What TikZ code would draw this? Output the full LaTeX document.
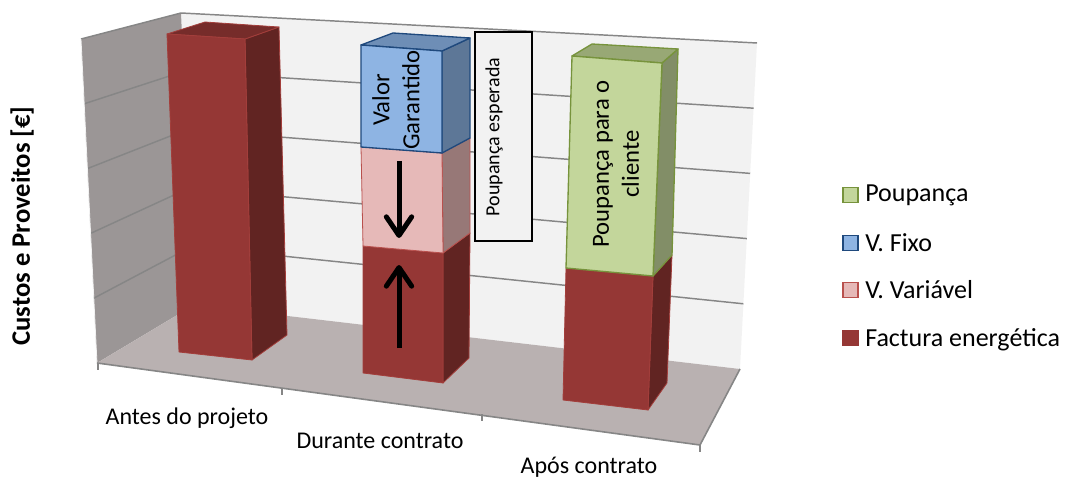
\documentclass[tikz,border=0pt]{standalone}
\usepackage{fontspec}
\setmainfont{Carlito}
\usetikzlibrary{calc,arrows.meta}
\definecolor{wallback}{HTML}{F2F2F2}
\definecolor{wallside}{HTML}{9B9696}
\definecolor{floorc}{HTML}{B9B1B1}
\definecolor{gridc}{HTML}{868686}
\definecolor{redF}{HTML}{953735}
\definecolor{redS}{HTML}{612422}
\definecolor{redT}{HTML}{762C2A}
\definecolor{redE}{HTML}{A33E3B}
\definecolor{pinkF}{HTML}{E6B9B8}
\definecolor{pinkS}{HTML}{977877}
\definecolor{pinkE}{HTML}{B9504D}
\definecolor{blueF}{HTML}{8EB4E3}
\definecolor{blueS}{HTML}{5D7797}
\definecolor{blueT}{HTML}{6E8EB6}
\definecolor{blueE}{HTML}{1F497D}
\definecolor{greenF}{HTML}{C3D69B}
\definecolor{greenS}{HTML}{828E67}
\definecolor{greenT}{HTML}{98A875}
\definecolor{greenE}{HTML}{77933C}
\tikzset{
  gridline/.style={draw=gridc, line width=1.1pt},
  edgeline/.style={draw=gridc, line width=1.2pt},
  redface/.style={draw=redE, line width=0.6pt, line join=round},
  pinkface/.style={draw=pinkE, line width=0.6pt, line join=round},
  blueface/.style={draw=blueE, line width=1pt, line join=round},
  greenface/.style={draw=greenE, line width=1pt, line join=round},
  cat/.style={font=\fontsize{18}{22}\selectfont, anchor=base, inner sep=0pt},
  barlabel/.style={font=\fontsize{18.5}{21}\selectfont, rotate=90, align=center, inner sep=0pt},
  legtext/.style={font=\fontsize{19.5}{23}\selectfont, anchor=base west, inner sep=0pt},
  legbox/.style={line width=1.1pt, minimum width=11pt, minimum height=11pt, inner sep=0pt},
  bigarrow/.style={line width=3.75pt, -{Straight Barb[length=14pt,width=19pt,round]}}
}
\begin{document}
\begin{tikzpicture}[x=0.75pt,y=-0.75pt]
\useasboundingbox (0,0) rectangle (1069,477);
% corner coordinates of the chart box
\coordinate (LF0) at (81,39);
\coordinate (LF1) at (97,363);
\coordinate (LB0) at (181,13);
\coordinate (LB1) at (194,305);
\coordinate (BR0) at (757,43);
\coordinate (BR1) at (740,369);
\coordinate (FR) at (700,445);
% walls and floor
\fill[wallback] (LB0) -- (BR0) -- (BR1) -- (LB1) -- cycle;
\fill[wallside] (LF0) -- (LB0) -- (LB1) -- (LF1) -- cycle;
\fill[floorc] (LB1) -- (BR1) -- (FR) -- (LF1) -- cycle;
\foreach \k in {0,1,2,3,4}{
  \draw[gridline] ($(LF0)!\k/5!(LF1)$) -- ($(LB0)!\k/5!(LB1)$) -- ($(BR0)!\k/5!(BR1)$);
}
\draw[draw=wallback, line width=0.6pt] (LF0) -- (LF1);
\draw[edgeline] (LF1) -- (FR) -- (BR1);
% ticks
\coordinate (T1) at (98,363);
\coordinate (T2) at (282,388);
\coordinate (T3) at (482,414);
\coordinate (T4) at (700,445);
\foreach \t in {T1,T2,T3,T4}{
  \draw[edgeline] (\t) -- ++(0,7);
}
% ---- bar 1 : Antes do projeto
\filldraw[redface, fill=redS] (245,39) -- (279,27) -- (287,335) -- (252,360) -- cycle;
\filldraw[redface, fill=redT] (167,34) -- (205,22) -- (279,27) -- (245,39) -- cycle;
\filldraw[redface, fill=redF] (167,34) -- (245,39) -- (252,360) -- (179,352) -- cycle;
% ---- bar 2 : Durante contrato
\filldraw[redface, fill=redS] (443,253) -- (470,233) -- (469,358) -- (443,383) -- cycle;
\filldraw[redface, fill=redF] (363,246) -- (443,253) -- (443,383) -- (363,373) -- cycle;
\filldraw[pinkface, fill=pinkS] (442,153) -- (470,138) -- (470,233) -- (443,253) -- cycle;
\filldraw[pinkface, fill=pinkF] (361,147) -- (442,153) -- (443,253) -- (363,246) -- cycle;
\filldraw[blueface, fill=blueS] (442,51) -- (470,38) -- (470,138) -- (442,153) -- cycle;
\filldraw[blueface, fill=blueT] (361,45) -- (393,33) -- (470,38) -- (442,51) -- cycle;
\filldraw[blueface, fill=blueF] (361,45) -- (442,51) -- (442,153) -- (361,147) -- cycle;
% ---- bar 3 : Após contrato
\filldraw[redface, fill=redS] (653,276) -- (672,255) -- (667,383) -- (648,410) -- cycle;
\filldraw[redface, fill=redF] (566,268) -- (653,276) -- (648,410) -- (563,400) -- cycle;
\filldraw[greenface, fill=greenS] (662,63) -- (678,49) -- (672,255) -- (653,276) -- cycle;
\filldraw[greenface, fill=greenT] (572,56) -- (592,44) -- (678,49) -- (662,63) -- cycle;
\filldraw[greenface, fill=greenF] (572,56) -- (662,63) -- (653,276) -- (566,268) -- cycle;
% labels in bars
\node[barlabel] (vg) at (396,100) {Valor\\[1.5pt]Garantido};
\node[barlabel] (pc) at (616,164) {Poupança para o\\[1.5pt]cliente};
% expected-saving box
\node[draw=black, line width=1.5pt, fill=wallback, minimum width=42.75pt, minimum height=156.75pt, inner sep=0pt] (pebox) at (503.5,136.5) {};
\node[font=\fontsize{15}{18}\selectfont, rotate=90, inner sep=0pt] (pe) at (494,137) {Poupança esperada};
% arrows
\coordinate (d1) at (399,161);
\coordinate (d2) at (399,238);
\coordinate (u1) at (399,348);
\coordinate (u2) at (399,265);
\draw[bigarrow] (d1) -- (d2);
\draw[bigarrow] (u1) -- (u2);
% category labels
\node[cat] (c1) at (187,424) {Antes do projeto};
\node[cat] (c2) at (380,448) {Durante contrato};
\node[cat] (c3) at (589,473) {Após contrato};
% axis title
\node[font=\fontsize{20}{24}\selectfont\bfseries, rotate=90, inner sep=0pt] (yt) at (22,226) {Custos e Proveitos [€]};
% legend
\node[legbox, draw=greenE, fill=greenF] (l1) at (850.5,195) {};
\node[legbox, draw=blueE, fill=blueF] (l2) at (850.5,243) {};
\node[legbox, draw=pinkE, fill=pinkF] (l3) at (850.5,290) {};
\node[legbox, draw=redF, fill=redF] (l4) at (850.5,338) {};
\node[legtext] (lt1) at (865,202) {Poupança};
\node[legtext] (lt2) at (865,251) {V. Fixo};
\node[legtext] (lt3) at (865,298) {V. Variável};
\node[legtext] (lt4) at (865,346) {Factura energética};
\end{tikzpicture}
\end{document}
